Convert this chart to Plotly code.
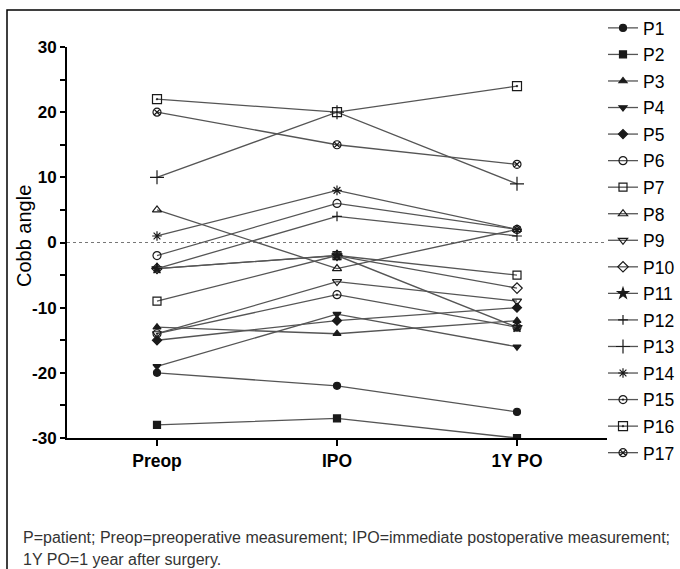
import plotly.graph_objects as go

# ---- data ----
categories = ["Preop", "IPO", "1Y PO"]
patients = ["P1", "P2", "P3", "P4", "P5", "P6", "P7", "P8", "P9",
            "P10", "P11", "P12", "P13", "P14", "P15", "P16", "P17"]
P1 = [-20, -22, -26]
P2 = [-28, -27, -30]
P3 = [-13, -14, -12]
P4 = [-19, -11, -16]
P5 = [-15, -12, -10]
P6 = [-2, 6, 2]
P7 = [-9, -2, -5]
P8 = [5, -4, 2]
P9 = [-14, -6, -9]
P10 = [-4, -2, -7]
P11 = [-4, -2, -13]
P12 = [-4, 4, 1]
P13 = [10, 20, 9]
P14 = [1, 8, 2]
P15 = [-14, -8, -13]
P16 = [22, 20, 24]
P17 = [20, 15, 12]
series = [P1, P2, P3, P4, P5, P6, P7, P8, P9, P10, P11, P12, P13, P14, P15, P16, P17]

y_tickvals = [-30, -20, -10, 0, 10, 20, 30]
y_ticktext = ["-30", "-20", "-10", "0", "10", "20", "30"]
y_title = "Cobb angle"

footnote1 = "P=patient; Preop=preoperative measurement; IPO=immediate postoperative measurement;"
footnote2 = "1Y PO=1 year after surgery."

# ---- styles ----
symbols = ["circle", "square", "triangle-up", "triangle-down", "diamond",
           "circle-open", "square-open", "triangle-up-open", "triangle-down-open",
           "diamond-open", "star", "cross-thin-open", "cross-thin-open", "asterisk-open",
           "circle-open-dot", "square-open-dot", "circle-x-open"]
sizes = [7, 7, 7, 7, 7, 8, 8, 8, 8, 8, 8, 7, 10, 8, 8, 9, 8]

FONT = "Liberation Sans, Arial, Helvetica, sans-serif"
W, H = 700, 569          # canvas slightly wider than the 680 px view; extra strip is off-screen
L, R, T, B = 67, 607, 47, 438  # plot area in pixels

def px_x(p):
    return (p - L) / (R - L)

def px_y(p):
    return (B - p) / (B - T)

fig = go.Figure()
for name, vals, sym, sz in zip(patients, series, symbols, sizes):
    fig.add_trace(go.Scatter(
        x=categories, y=vals, name=name, mode="lines+markers",
        legendgroup=name,
        line=dict(color="#555555", width=1.3),
        marker=dict(symbol=sym, size=sz, color="#1a1a1a",
                    line=dict(color="#1a1a1a", width=1.2)),
    ))

fig.add_shape(type="line", xref="paper", yref="y", x0=0, x1=1, y0=0, y1=0,
              line=dict(color="#777777", width=1, dash="dot"), layer="below")

# figure frame
fig.add_shape(type="rect", xref="paper", yref="paper",
              x0=px_x(7), x1=px_x(695), y0=px_y(580), y1=px_y(10),
              line=dict(color="black", width=1.5))

fig.add_annotation(text=y_title, xref="paper", yref="paper",
                   x=px_x(24), y=px_y(236), xanchor="center", yanchor="middle",
                   textangle=-90, showarrow=False,
                   font=dict(family=FONT, size=20, color="black"))
fig.add_annotation(text=footnote1, xref="paper", yref="paper",
                   x=px_x(21), y=px_y(537), xanchor="left", yanchor="middle",
                   showarrow=False, font=dict(family=FONT, size=16, color="#333333"))
fig.add_annotation(text=footnote2, xref="paper", yref="paper",
                   x=px_x(21), y=px_y(559), xanchor="left", yanchor="middle",
                   showarrow=False, font=dict(family=FONT, size=16, color="#333333"))

fig.update_layout(
    width=W, height=H,
    margin=dict(l=L, r=W - R, t=T, b=H - B, pad=0, autoexpand=False),
    paper_bgcolor="white", plot_bgcolor="white",
    font=dict(family=FONT, color="black"),
    showlegend=True,
    legend=dict(x=px_x(603), y=px_y(10), xanchor="left", yanchor="top",
                font=dict(family=FONT, size=17.5, color="black"),
                tracegroupgap=0.8, itemwidth=30, bgcolor="rgba(0,0,0,0)",
                borderwidth=0, maxheight=560),
    xaxis=dict(type="category", range=[-0.5, 2.5], showline=True,
               linecolor="black", linewidth=2, ticks="outside", ticklen=6,
               tickwidth=1.5, tickcolor="black", showgrid=False, zeroline=False,
               tickfont=dict(family=FONT, size=17.5, weight="bold")),
    yaxis=dict(range=[-30, 30], showline=True, linecolor="black", linewidth=2,
               ticks="outside", ticklen=5, tickwidth=1.5, tickcolor="black",
               tickvals=y_tickvals, ticktext=y_ticktext, ticklabelstandoff=0,
               minor=dict(dtick=5, ticks="outside", ticklen=5, tickcolor="black", tickwidth=1.5),
               showgrid=False, zeroline=False,
               tickfont=dict(family=FONT, size=17, weight="bold")),
)

fig.write_html("out.html", config={"displayModeBar": False},
               post_script=("document.body.style.margin='0';document.body.style.padding='0';"
                            "document.body.style.overflow='hidden';"
                            "document.documentElement.style.overflow='hidden';"))
